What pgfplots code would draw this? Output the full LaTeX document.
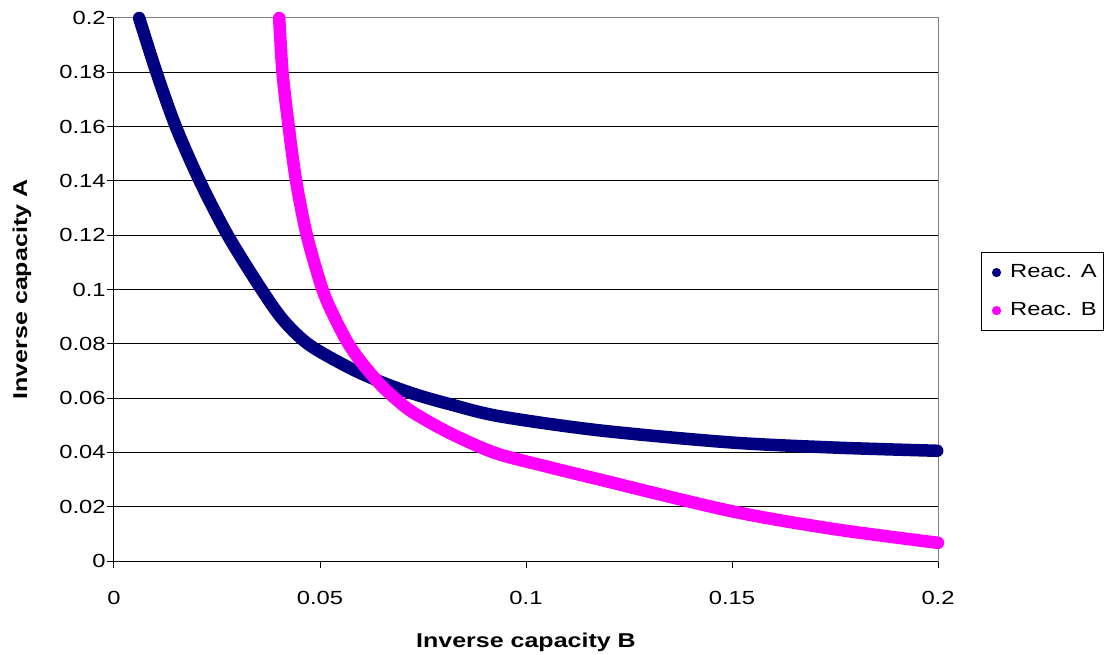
\documentclass[border=0pt]{standalone}
\usepackage{pgfplots}
\pgfplotsset{compat=1.18}
\usepackage{fontspec}
\setmainfont{Liberation Sans}[FakeStretch=1.25]
\definecolor{navyA}{RGB}{0,0,128}
\definecolor{magB}{RGB}{255,0,255}
\begin{document}
\begin{tikzpicture}
\begin{axis}[
  name=ax,
  scale only axis,
  width=412pt, height=271.5pt,
  xmin=0, xmax=0.2, ymin=0, ymax=0.2,
  xtick={0,0.05,0.1,0.15,0.2},
  xticklabels={0,0.05,0.1,0.15,0.2},
  ytick={0,0.02,0.04,0.06,0.08,0.1,0.12,0.14,0.16,0.18,0.2},
  yticklabels={0,0.02,0.04,0.06,0.08,0.1,0.12,0.14,0.16,0.18,0.2},
  /pgf/number format/assume math mode=true,
  xtick pos=left, ytick pos=left,
  tick align=outside,
  major tick length=3.5pt,
  tick style={black, line width=0.5pt},
  ymajorgrids,
  grid style={black, line width=0.5pt},
  axis line style={draw=gray, line width=0.5pt},
  clip=false,
  ticklabel style={font=\fontsize{9.5}{11}\selectfont},
  xticklabel style={anchor=center, yshift=-15pt},
  yticklabel style={anchor=east, inner sep=0pt, xshift=-0.5pt},
  xlabel={Inverse capacity B},
  ylabel={Inverse capacity A},
  label style={font=\fontsize{10}{12}\selectfont\bfseries},
  xlabel style={at={(axis description cs:0.5,-0.1496)}, anchor=center},
  ylabel style={at={(axis description cs:-0.1118,0.5)}, anchor=center},
  legend cell align=left,
  legend style={at={(axis description cs:1.0522,0.569)}, anchor=north west,
    draw=black, line width=0.5pt, font=\fontsize{9.5}{11}\selectfont,
    inner xsep=3pt, inner ysep=4pt, row sep=7pt,
    nodes={inner xsep=0.5pt},
    /tikz/every odd column/.append style={column sep=4pt}},
]
\addplot[navyA, line width=6.25pt, line cap=round, line join=round, smooth, tension=0.5,
  legend image code/.code={\path[draw=none, fill=none] (-4.5pt,-1pt) rectangle (2.3pt,1pt);
    \path[fill=navyA, draw=none] (0pt,0pt) circle (2.3pt);}]
  coordinates {
  (0.0061,0.2000)
  (0.0103,0.1800)
  (0.0150,0.1600)
  (0.0208,0.1400)
  (0.0276,0.1200)
  (0.0358,0.1000)
  (0.0412,0.0885)
  (0.0474,0.0796)
  (0.0571,0.0712)
  (0.0652,0.0657)
  (0.0733,0.0613)
  (0.0814,0.0578)
  (0.0936,0.0533)
  (0.1179,0.0481)
  (0.1494,0.0437)
  (0.1746,0.0418)
  (0.1998,0.0406)
  };
\addlegendentry{Reac. A}
\addplot[magB, line width=6.25pt, line cap=round, line join=round, smooth, tension=0.5,
  legend image code/.code={\path[draw=none, fill=none] (-4.5pt,-1pt) rectangle (2.3pt,1pt);
    \path[fill=magB, draw=none] (0pt,0pt) circle (2.3pt);}]
  coordinates {
  (0.0401,0.2000)
  (0.0409,0.1800)
  (0.0424,0.1600)
  (0.0442,0.1400)
  (0.0468,0.1200)
  (0.0506,0.1000)
  (0.0535,0.0898)
  (0.0567,0.0805)
  (0.0600,0.0733)
  (0.0644,0.0654)
  (0.0680,0.0602)
  (0.0725,0.0548)
  (0.0814,0.0472)
  (0.0925,0.0398)
  (0.1050,0.0348)
  (0.1179,0.0300)
  (0.1494,0.0185)
  (0.1746,0.0118)
  (0.2000,0.0067)
  };
\addlegendentry{Reac. B}
\end{axis}
\draw[black, line width=0.5pt] (ax.north west) -- (ax.south west) -- (ax.south east);
\pgfresetboundingbox
\path ([shift={(-57pt,-46.5pt)}]ax.south west) rectangle ([shift={(85pt,9pt)}]ax.north east);
\end{tikzpicture}
\end{document}
